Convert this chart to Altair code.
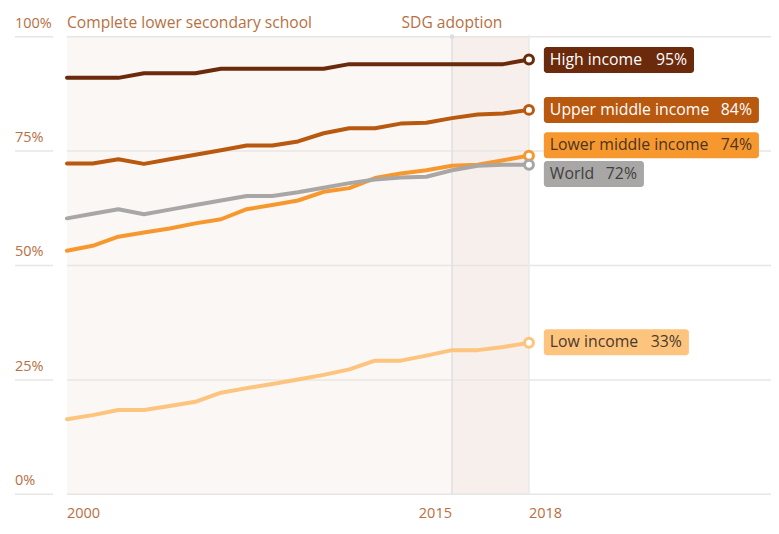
import altair as alt
import pandas as pd

years = list(range(2000, 2019))
high_income = [91, 91, 91, 92, 92, 92, 93, 93, 93, 93, 93, 94, 94, 94, 94, 94, 94, 94, 95]
upper_middle = [72.3, 72.3, 73.2, 72.2, 73.2, 74.2, 75.2, 76.2, 76.2, 77.1, 78.9, 80, 80, 81, 81.2, 82.2, 83, 83.2, 84]
lower_middle = [53.2, 54.3, 56.3, 57.2, 58.1, 59.2, 60.1, 62.3, 63.2, 64.2, 66.1, 66.9, 69.1, 70.1, 70.8, 71.8, 72, 73, 74]
world = [60.3, 61.3, 62.3, 61.2, 62.2, 63.2, 64.2, 65.2, 65.2, 66, 67, 68, 68.8, 69.2, 69.4, 70.8, 71.8, 72, 72]
low_income = [16.4, 17.3, 18.4, 18.4, 19.3, 20.2, 22.2, 23.2, 24.1, 25.1, 26.1, 27.3, 29.2, 29.2, 30.3, 31.5, 31.5, 32.2, 33.1]

series_names = ["High income", "Upper middle income", "Lower middle income", "World", "Low income"]
series_values = [high_income, upper_middle, lower_middle, world, low_income]
series_colors = ["#6a2a0b", "#b9580f", "#f7982f", "#a8a7a6", "#fdc47e"]
label_text_colors = ["#ffffff", "#ffffff", "#4a3424", "#3f3f3f", "#4a3a2c"]
label_values = ["95%", "84%", "74%", "72%", "33%"]
label_y = [94.9, 84.0, 76.3, 70.0, 33.2]
label_box_end = [2024.43, 2026.96, 2026.96, 2022.48, 2024.23]

y_ticks = [0, 25, 50, 75, 100]
y_tick_labels = ["0%", "25%", "50%", "75%", "100%"]
x_ticks = [2000, 2015, 2018]
x_tick_aligns = ["left", "right", "left"]

W, H = 756, 510
X_MIN, X_MAX = 1997.974, 2027.43
Y_MIN, Y_MAX = -5.62, 105.83
LABEL_X0 = 2018.58
BOX_HALF = 2.84
BROWN = "#b7703f"
FONT = "Open Sans"

xs = alt.Scale(domain=[X_MIN, X_MAX], nice=False, zero=False)
ys = alt.Scale(domain=[Y_MIN, Y_MAX], nice=False, zero=False)


def px(year):
    return (year - X_MIN) / (X_MAX - X_MIN) * W


rows = []
for name, vals in zip(series_names, series_values):
    for yr, v in zip(years, vals):
        rows.append({"series": name, "year": yr, "value": v})
lines_df = pd.DataFrame(rows)

end_df = pd.DataFrame({
    "series": series_names,
    "year": [years[-1]] * 5,
    "value": [v[-1] for v in series_values],
    "label_y": label_y,
    "y0": [v - BOX_HALF for v in label_y],
    "y1": [v + BOX_HALF for v in label_y],
    "x0": [LABEL_X0] * 5,
    "x1": label_box_end,
    "pct": label_values,
    "tcolor": label_text_colors,
})

color = alt.Color("series:N", scale=alt.Scale(domain=series_names, range=series_colors), legend=None)


def X(f):
    return alt.X(f, scale=xs, axis=None)


def Y(f):
    return alt.Y(f, scale=ys, axis=None)


shade_df = pd.DataFrame({"x0": [2000, 2015], "x1": [2015, 2018], "c": ["#faf7f4", "#f6efeb"]})
shade = alt.Chart(shade_df).mark_rect().encode(
    x=X("x0:Q"), x2="x1:Q", y=Y("lo:Q"), y2="hi:Q",
    color=alt.Color("c:N", scale=None)
).transform_calculate(lo="0", hi="100")

grid_df = pd.DataFrame({"y": y_ticks})
grid_left = alt.Chart(grid_df).mark_rule(color="#e8e6e4", strokeWidth=1.5).encode(
    y=Y("y:Q"), x=alt.value(0), x2=alt.value(px(1999.455))
)
grid_right = alt.Chart(grid_df).mark_rule(color="#e8e6e4", strokeWidth=1.5).encode(
    y=Y("y:Q"), x=alt.value(px(2000)), x2=alt.value(W)
)

vline_df = pd.DataFrame({"x": [2015, 2018], "c": ["#e2e0df", "#ebe9e8"]})
vlines = alt.Chart(vline_df).mark_rule(strokeWidth=1.5).encode(
    x=X("x:Q"), y=Y("lo:Q"), y2="hi:Q",
    color=alt.Color("c:N", scale=None)
).transform_calculate(lo="0", hi="100.3")
sdg_dot = alt.Chart(pd.DataFrame({"x": [2015], "y": [100]})).mark_point(
    filled=True, size=22, color="#dcdde3", opacity=1
).encode(x=X("x:Q"), y=Y("y:Q"))

ylab_df = pd.DataFrame({"y": y_ticks, "t": y_tick_labels})
ylabels = alt.Chart(ylab_df).mark_text(
    align="left", baseline="middle", dy=-13, font=FONT, fontSize=14.5, color=BROWN
).encode(x=alt.value(0), y=Y("y:Q"), text="t:N")

xlab_df = pd.DataFrame({"x": x_ticks, "t": [str(v) for v in x_ticks], "a": x_tick_aligns})
xlab_layers = []
for a in ["left", "right"]:
    xlab_layers.append(
        alt.Chart(xlab_df[xlab_df["a"] == a]).mark_text(
            align=a, baseline="middle", dy=20, font=FONT, fontSize=14.5, color=BROWN
        ).encode(x=X("x:Q"), y=Y("z:Q"), text="t:N").transform_calculate(z="0")
    )

titles_df = pd.DataFrame({"x": [2000, 2015], "t": ["Complete lower secondary school", "SDG adoption"], "a": ["left", "center"]})
title_layers = []
for a in ["left", "center"]:
    title_layers.append(
        alt.Chart(titles_df[titles_df["a"] == a]).mark_text(
            align=a, baseline="middle", dy=-13.5, font=FONT, fontSize=15.6, color=BROWN
        ).encode(x=X("x:Q"), y=Y("z:Q"), text="t:N").transform_calculate(z="100")
    )

lines = alt.Chart(lines_df).mark_line(strokeWidth=4, strokeJoin="round", strokeCap="round").encode(
    x=X("year:Q"), y=Y("value:Q"), color=color, order=alt.Order("year:Q")
)
dots = alt.Chart(end_df).mark_point(filled=True, fill="white", size=80, strokeWidth=3, opacity=1).encode(
    x=X("year:Q"), y=Y("value:Q"),
    stroke=alt.Stroke("series:N", scale=alt.Scale(domain=series_names, range=series_colors), legend=None)
)

boxes = alt.Chart(end_df).mark_rect(cornerRadius=3).encode(
    x=X("x0:Q"), x2="x1:Q", y=Y("y0:Q"), y2="y1:Q", color=color
)
name_text = alt.Chart(end_df).mark_text(align="left", baseline="middle", dx=6, font=FONT, fontSize=15.8).encode(
    x=X("x0:Q"), y=Y("label_y:Q"), text="series:N", color=alt.Color("tcolor:N", scale=None)
)
pct_text = alt.Chart(end_df).mark_text(align="right", baseline="middle", dx=-7, font=FONT, fontSize=15.8).encode(
    x=X("x1:Q"), y=Y("label_y:Q"), text="pct:N", color=alt.Color("tcolor:N", scale=None)
)

chart = alt.layer(
    shade, grid_left, grid_right, vlines, sdg_dot, ylabels, *xlab_layers, *title_layers,
    lines, dots, boxes, name_text, pct_text
).properties(
    width=W, height=H,
    autosize=alt.AutoSizeParams(type="none"),
    padding={"left": 7, "top": 2, "right": 0, "bottom": 8},
).configure(background="white").configure_view(stroke=None)

chart.save("out.html", embed_options={"renderer": "svg", "actions": False})
